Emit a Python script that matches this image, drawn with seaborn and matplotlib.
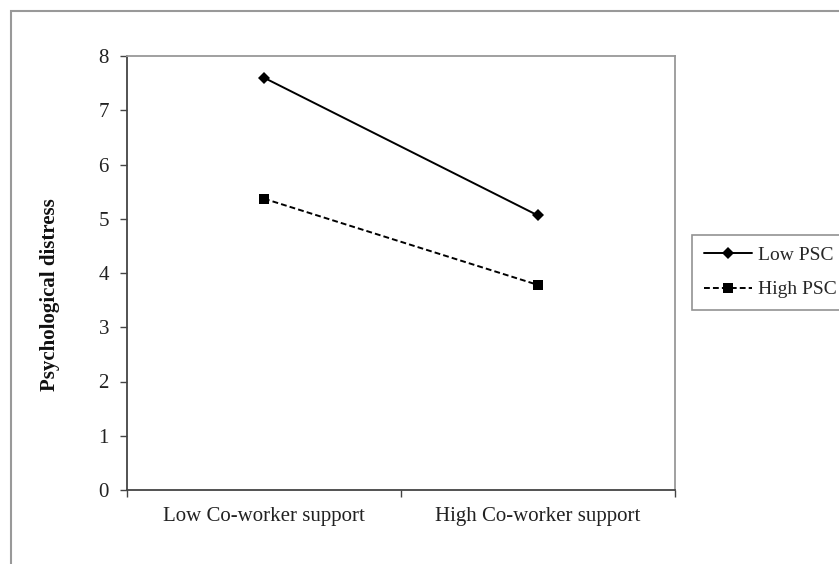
import pandas as pd
import matplotlib.pyplot as plt
import matplotlib.patches as patches
from matplotlib.ticker import FixedLocator
import seaborn as sns

# values
support = ["Low Co-worker support", "High Co-worker support"]
low_psc = [7.60, 5.06]
high_psc = [5.37, 3.78]
groups = ["Low PSC", "High PSC"]
y_ticks = [0, 1, 2, 3, 4, 5, 6, 7, 8]

df = pd.DataFrame({
    "support": support * 2,
    "distress": low_psc + high_psc,
    "psc": [groups[0]] * 2 + [groups[1]] * 2,
})

sns.set_style("white")
plt.rcParams["font.family"] = ["Liberation Serif", "DejaVu Serif"]

fig = plt.figure(figsize=(8.39, 5.64), dpi=100)
ax = fig.add_axes([127 / 839, 1 - 490 / 564, 548 / 839, 434 / 564])

sns.lineplot(data=df, x="support", y="distress", hue="psc", style="psc",
             palette=["black", "black"], markers={"Low PSC": "D", "High PSC": "s"},
             dashes={"Low PSC": "", "High PSC": (3, 1.6)},
             markersize=6, linewidth=1.4, markeredgewidth=0, ax=ax, legend=False)
# smaller diamond
ax.lines[0].set_markersize(6)
ax.lines[1].set_markersize(7.5)

ax.set_xlim(-0.5, 1.5)
ax.set_ylim(0, 8)
ax.set_yticks(y_ticks)
ax.set_xticks([0, 1])
ax.set_xticklabels(support)
ax.xaxis.set_minor_locator(FixedLocator([-0.5, 0.5, 1.5]))
ax.tick_params(axis="x", which="major", length=0, pad=12, labelsize=15, colors="#222222")
ax.tick_params(axis="x", which="minor", length=5, width=1, color="#444444", bottom=True)
ax.tick_params(axis="y", length=5, width=1, color="#444444", pad=8, labelsize=15,
               labelcolor="#222222", left=True)

for side in ["left", "bottom"]:
    ax.spines[side].set_color("#444444")
    ax.spines[side].set_linewidth(1.3)
for side in ["top", "right"]:
    ax.spines[side].set_color("#999999")
    ax.spines[side].set_linewidth(1.3)

ax.set_xlabel("")
ax.set_ylabel("Psychological distress", fontsize=15, fontweight="bold", color="#111111")
ax.yaxis.set_label_coords(-0.123, 0.45)

# legend
handles = [
    plt.Line2D([], [], color="black", lw=1.4, marker="D", markersize=6, markeredgewidth=0),
    plt.Line2D([], [], color="black", lw=1.4, ls=(0, (3, 1.6)), marker="s", markersize=7.5,
               markeredgewidth=0),
]
leg = fig.legend(handles, groups, loc="upper left", bbox_to_anchor=(692 / 839, 1 - 235 / 564),
                 fontsize=14, frameon=True, fancybox=False, borderaxespad=0,
                 handlelength=2.5, handletextpad=0.3, labelspacing=0.85,
                 borderpad=0.6)
leg.get_frame().set_edgecolor("#777777")
leg.get_frame().set_linewidth(1.2)

# outer frame around the chart
fig.patches.append(patches.Rectangle((11 / 839, -0.1), 2, 1 - 11 / 564 + 0.1,
                                     transform=fig.transFigure, fill=False,
                                     edgecolor="#999999", linewidth=1.5))

fig.savefig("out.png", dpi=100)
